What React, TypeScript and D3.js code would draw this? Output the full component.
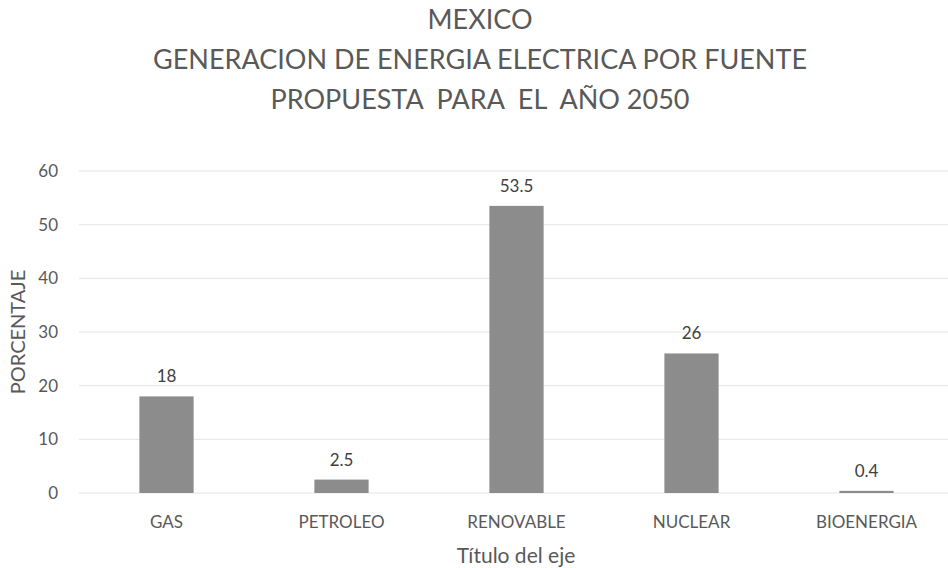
import { useEffect, useRef } from 'react';
import * as d3 from 'd3';

const categories = ['GAS', 'PETROLEO', 'RENOVABLE', 'NUCLEAR', 'BIOENERGIA'];
const values = [18, 2.5, 53.5, 26, 0.4];
const valueLabels = ['18', '2.5', '53.5', '26', '0.4'];
const yTicks = [0, 10, 20, 30, 40, 50, 60];
const titleLines = [
  'MEXICO',
  'GENERACION DE ENERGIA ELECTRICA POR FUENTE',
  'PROPUESTA  PARA  EL  AÑO 2050',
];

const FONT = 'Lato, "Open Sans", sans-serif';

export default function App() {
  const ref = useRef<SVGSVGElement>(null);

  useEffect(() => {
    if (!ref.current) return;
    const svg = d3.select(ref.current);
    svg.selectAll('*').remove();

    const W = 948, H = 568;
    const m = { top: 171, right: -6, bottom: 75, left: 79 };

    const x = d3.scaleBand<string>().domain(categories)
      .range([m.left, W - m.right]).paddingInner(0.69).paddingOuter(0.345);
    const y = d3.scaleLinear().domain([0, 60]).range([H - m.bottom, m.top]);

    svg.append('rect').attr('width', W).attr('height', H).attr('fill', '#fff');

    // title
    svg.append('g').selectAll('text').data(titleLines).enter().append('text')
      .attr('x', 480).attr('y', (_, i) => 29 + i * 40)
      .attr('text-anchor', 'middle').attr('font-size', '27px')
      .attr('fill', '#595959').style('white-space', 'pre')
      .text(d => d);

    // grid
    svg.append('g').selectAll('line').data(yTicks).enter().append('line')
      .attr('x1', m.left).attr('x2', W).attr('y1', d => y(d)).attr('y2', d => y(d))
      .attr('stroke', '#e4e4e4').attr('stroke-width', 1);

    // y axis
    const ya = svg.append('g').attr('transform', `translate(${m.left},0)`)
      .call(d3.axisLeft(y).tickValues(yTicks).tickSize(0).tickPadding(21));
    ya.select('.domain').remove();
    ya.selectAll('text').attr('font-size', '17px').attr('fill', '#595959').attr('font-family', FONT);

    // bars
    svg.append('g').selectAll('rect').data(values).enter().append('rect')
      .attr('x', (_, i) => x(categories[i])!)
      .attr('width', x.bandwidth())
      .attr('y', d => y(d))
      .attr('height', d => y(0) - y(d))
      .attr('fill', '#8c8c8c');

    // value labels
    svg.append('g').selectAll('text').data(values).enter().append('text')
      .attr('x', (_, i) => x(categories[i])! + x.bandwidth() / 2)
      .attr('y', d => y(d) - 14)
      .attr('text-anchor', 'middle').attr('font-size', '17px').attr('fill', '#404040')
      .text((_, i) => valueLabels[i]);

    // x axis
    const xa = svg.append('g').attr('transform', `translate(0,${y(0)})`)
      .call(d3.axisBottom(x).tickSize(0).tickPadding(23));
    xa.select('.domain').remove();
    xa.selectAll('text').attr('font-size', '17px').attr('fill', '#595959').attr('font-family', FONT);

    svg.append('text').attr('x', 516).attr('y', 563)
      .attr('text-anchor', 'middle').attr('font-size', '21px').attr('fill', '#595959')
      .text('Título del eje');

    svg.append('text')
      .attr('transform', `translate(25,${(y(0) + y(60)) / 2}) rotate(-90)`)
      .attr('text-anchor', 'middle').attr('font-size', '20px').attr('fill', '#595959')
      .text('PORCENTAJE');
  }, []);

  return (
    <svg ref={ref} width={948} height={568}
      style={{ position: 'absolute', left: 0, top: 0, fontFamily: FONT }} />
  );
}
